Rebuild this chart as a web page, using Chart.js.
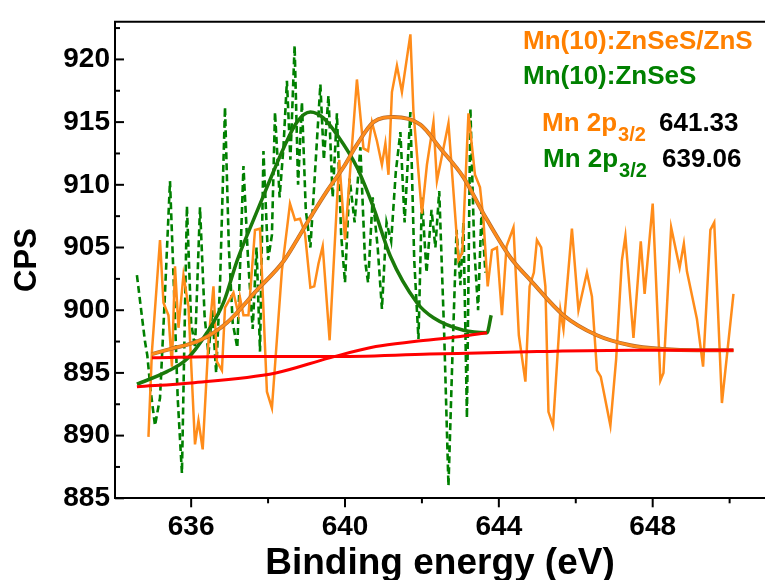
<!DOCTYPE html>
<html>
<head>
<meta charset="utf-8">
<script src="https://cdn.jsdelivr.net/npm/chart.js@4.4.1/dist/chart.umd.min.js"></script>
<style>
  body { margin: 0; background: #fff; }
  #wrap { width: 765px; height: 580px; position: relative; }
</style>
</head>
<body>
<div id="wrap"><canvas id="xps"></canvas></div>
<script>
// raw spectrum, Mn(10):ZnSeS/ZnS
const orangeE = [634.89, 634.98, 635.19, 635.28, 635.41, 635.50, 635.58, 635.67, 635.80, 635.93,
  636.10, 636.19, 636.30, 636.45, 636.58, 636.67, 636.80, 636.88, 637.10, 637.23,
  637.27, 637.36, 637.49, 637.66, 637.79, 637.97, 638.10, 638.36, 638.57, 638.70,
  638.83, 638.96, 639.10, 639.20, 639.31, 639.42, 639.60, 639.85, 640.00, 640.31,
  640.48, 640.60, 640.70, 640.83, 640.96, 641.05, 641.13, 641.22, 641.35, 641.48,
  641.70, 641.78, 642.00, 642.13, 642.30, 642.39, 642.69, 642.95, 643.05, 643.21,
  643.38, 643.51, 643.60, 643.71, 643.82, 643.95, 644.08, 644.20, 644.38, 644.52,
  644.69, 644.80, 644.91, 644.99, 645.10, 645.21, 645.29, 645.41, 645.60, 645.68,
  645.90, 646.07, 646.29, 646.42, 646.55, 646.65, 646.90, 647.05, 647.20, 647.29,
  647.50, 647.69, 647.79, 648.00, 648.20, 648.28, 648.48, 648.70, 648.81, 648.89,
  649.15, 649.31, 649.50, 649.60, 649.80, 650.10];
const orangeCps = [889.9, 896.7, 905.6, 900.6, 899.6, 895.5, 903.5, 898.6, 902.8, 900.3,
  889.3, 891.2, 888.9, 897.5, 901.9, 895.9, 895.2, 900.2, 901.4, 899.7,
  901.0, 899.6, 899.6, 906.4, 906.5, 893.5, 892.2, 903.2, 908.5, 907.2,
  907.3, 906.1, 901.8, 901.9, 903.7, 905.1, 897.6, 912.0, 905.6, 918.4,
  912.9, 912.7, 915.0, 913.5, 911.6, 913.3, 910.8, 917.4, 919.5, 917.4,
  922.0, 915.8, 907.7, 911.6, 915.0, 910.3, 914.9, 904.0, 904.6, 915.7,
  910.8, 909.8, 907.2, 901.9, 904.8, 905.0, 899.6, 905.1, 906.6, 898.0,
  894.3, 901.9, 903.0, 905.6, 905.0, 901.9, 891.9, 890.8, 900.0, 898.5,
  906.5, 900.0, 903.0, 901.1, 895.2, 894.7, 890.8, 896.1, 904.0, 905.9,
  897.8, 905.5, 901.3, 908.5, 894.4, 895.0, 906.6, 903.4, 905.3, 903.1,
  899.3, 895.5, 906.4, 907.0, 892.6, 901.3];

// raw spectrum, Mn(10):ZnSeS
const greenE = [634.59, 634.70, 634.80, 634.86, 634.95, 635.06, 635.19, 635.30, 635.45, 635.55,
  635.65, 635.76, 635.89, 636.00, 636.10, 636.23, 636.35, 636.45, 636.55, 636.65,
  636.75, 636.88, 636.98, 637.08, 637.20, 637.36, 637.48, 637.60, 637.70, 637.79,
  637.88, 638.00, 638.10, 638.18, 638.30, 638.40, 638.49, 638.58, 638.69, 638.78,
  638.88, 638.98, 639.10, 639.20, 639.36, 639.45, 639.57, 639.68, 639.79, 639.90,
  640.00, 640.12, 640.25, 640.40, 640.52, 640.60, 640.72, 640.85, 640.96, 641.08,
  641.20, 641.32, 641.44, 641.55, 641.70, 641.80, 641.91, 642.00, 642.12, 642.25,
  642.35, 642.45, 642.58, 642.69, 642.80, 642.90, 643.00, 643.08, 643.17, 643.26,
  643.36, 643.46, 643.55, 643.65];
const greenCps = [902.8, 900.0, 897.5, 896.4, 893.5, 890.8, 893.0, 900.0, 910.3, 902.0,
  893.0, 887.0, 908.3, 899.0, 897.0, 908.2, 899.5, 896.5, 900.0, 895.0,
  902.0, 916.2, 905.0, 899.0, 897.0, 911.5, 904.0, 898.5, 905.0, 896.7,
  912.7, 904.0, 906.0, 915.8, 909.0, 913.0, 918.3, 912.0, 921.1, 910.0,
  916.6, 908.0, 905.0, 910.0, 918.0, 912.0, 917.1, 909.0, 915.7, 906.0,
  902.2, 910.5, 907.0, 913.0, 904.0, 902.2, 909.0, 905.0, 900.1, 907.0,
  905.5, 911.0, 914.2, 907.0, 915.8, 904.0, 897.7, 909.0, 903.0, 908.0,
  905.0, 909.5, 898.0, 886.0, 897.0, 906.4, 902.0, 907.0, 891.4, 916.1,
  905.0, 900.0, 908.0, 903.0];

// fitted envelopes
const orangeFitE = [634.98, 635.45, 636.23, 636.93, 637.71, 638.40, 638.75, 639.10, 639.53, 639.96,
  640.31, 640.74, 641.26, 641.96, 642.48, 643.08, 643.60, 644.30, 644.82, 645.68,
  646.55, 647.42, 648.28, 649.15, 650.10];
const orangeFitCps = [896.5, 896.9, 897.6, 899.0, 901.6, 903.9, 905.6, 907.4, 909.5, 911.4,
  913.2, 915.0, 915.4, 914.8, 912.9, 910.6, 907.7, 904.2, 902.4, 899.6,
  898.0, 897.2, 896.9, 896.8, 896.8];

const greenFitE = [634.59, 635.37, 635.89, 636.41, 636.84, 637.20, 637.62, 637.97, 638.40, 638.75,
  639.10, 639.45, 639.79, 640.31, 640.74, 641.18, 641.87, 642.30, 643.08, 643.69, 643.80];
const greenFitCps = [894.1, 895.1, 896.1, 898.2, 900.6, 904.0, 907.2, 909.8, 912.9, 915.0,
  915.8, 915.3, 914.0, 911.4, 908.2, 904.3, 900.6, 899.4, 898.4, 898.2, 899.6];

// backgrounds
const orangeBaseE = [634.98, 637.00, 639.60, 642.20, 645.00, 647.50, 650.10];
const orangeBaseCps = [896.2, 896.3, 896.3, 896.5, 896.7, 896.8, 896.8];
const greenBaseE = [634.59, 636.00, 638.20, 639.60, 640.80, 641.80, 643.00, 643.69];
const greenBaseCps = [893.9, 894.2, 895.0, 896.2, 897.1, 897.5, 897.9, 898.2];

const xTicks = [636, 638, 640, 642, 644, 646, 648, 650];
const yTicks = [885, 887.5, 890, 892.5, 895, 897.5, 900, 902.5, 905, 907.5, 910, 912.5, 915, 917.5, 920, 922.5];

const ORANGE = '#ff8c1a';
const GREEN = '#008000';
const FONT = '"Liberation Sans", Arial, sans-serif';

function pts(xs, ys) {
  return xs.map((x, i) => ({ x: x, y: ys[i] }));
}

function line(data, color, width, order, extra) {
  return Object.assign({
    data: data, borderColor: color, borderWidth: width, showLine: true,
    pointRadius: 0, fill: false, tension: 0, order: order
  }, extra || {});
}

const smooth = { cubicInterpolationMode: 'monotone' };

const frame = {
  id: 'frame',
  afterDraw(chart) {
    const { ctx, chartArea: a, scales: { x, y } } = chart;
    ctx.save();
    ctx.strokeStyle = '#000';
    ctx.lineWidth = 2;
    ctx.beginPath();
    ctx.moveTo(a.left - 1, a.top);
    ctx.lineTo(a.right, a.top);
    ctx.stroke();
    x.ticks.forEach(t => {
      const px = x.getPixelForValue(t.value);
      const len = t.value % 4 === 0 ? 9 : 5;
      ctx.beginPath();
      ctx.moveTo(px, a.bottom);
      ctx.lineTo(px, a.bottom + len);
      ctx.stroke();
    });
    y.ticks.forEach(t => {
      const py = y.getPixelForValue(t.value);
      const len = t.value % 5 === 0 ? 9 : 5;
      ctx.beginPath();
      ctx.moveTo(a.left, py);
      ctx.lineTo(a.left + len, py);
      ctx.stroke();
    });

    // legend / peak labels
    ctx.textBaseline = 'alphabetic';
    ctx.textAlign = 'left';
    ctx.font = 'bold 26px ' + FONT;
    ctx.fillStyle = '#ff8000';
    ctx.fillText('Mn(10):ZnSeS/ZnS', 523, 49);
    ctx.fillStyle = GREEN;
    ctx.fillText('Mn(10):ZnSeS', 523, 84);

    function peak(x0, base, color, value, vx) {
      ctx.font = 'bold 26px ' + FONT;
      ctx.fillStyle = color;
      ctx.fillText('Mn 2p', x0, base);
      const w = ctx.measureText('Mn 2p').width;
      ctx.font = 'bold 20px ' + FONT;
      ctx.fillText('3/2', x0 + w + 1, base + 10);
      ctx.font = 'bold 26px ' + FONT;
      ctx.fillStyle = '#000';
      ctx.fillText(value, vx, base);
    }
    peak(542, 131, '#ff8000', '641.33', 659);
    peak(543, 167, GREEN, '639.06', 662);
    ctx.restore();
  }
};

new Chart(document.getElementById('xps'), {
  type: 'scatter',
  data: {
    datasets: [
      line(pts(greenE, greenCps), GREEN, 2.6, 7, { borderDash: [7, 4] }),
      line(pts(orangeE, orangeCps), ORANGE, 2.5, 6),
      line(pts(greenFitE, greenFitCps), '#1a7a0a', 3.5, 5, smooth),
      line(pts(orangeFitE, orangeFitCps), '#b0682e', 4, 4, smooth),
      line(pts(orangeFitE, orangeFitCps), ORANGE, 2.8, 3, smooth),
      line(pts(greenBaseE, greenBaseCps), '#ff0000', 3, 2, smooth),
      line(pts(orangeBaseE, orangeBaseCps), '#ff0000', 3, 1, smooth)
    ]
  },
  options: {
    responsive: true,
    maintainAspectRatio: false,
    animation: false,
    devicePixelRatio: 1,
    layout: { padding: { top: 16, right: 0, left: 0, bottom: 0 } },
    plugins: { legend: { display: false }, tooltip: { enabled: false } },
    scales: {
      x: {
        type: 'linear',
        min: 634.02,
        max: 650.92,
        afterBuildTicks: s => { s.ticks = xTicks.map(v => ({ value: v })); },
        afterFit: s => { s.height = 81.7; },
        grid: { display: false, drawTicks: false },
        border: { display: true, color: '#000', width: 2 },
        ticks: {
          autoSkip: false, maxRotation: 0, padding: 12, color: '#000',
          font: { family: FONT, weight: 'bold', size: 28 },
          callback: v => (v % 4 === 0 ? String(v) : '')
        },
        title: {
          display: true, text: 'Binding energy (eV)', color: '#000',
          font: { family: FONT, weight: 'bold', size: 37, lineHeight: 1 },
          padding: { top: 0, bottom: -2 }
        }
      },
      y: {
        type: 'linear',
        min: 885,
        max: 923,
        afterBuildTicks: s => { s.ticks = yTicks.map(v => ({ value: v })); },
        afterFit: s => { s.width = 115; },
        grid: { display: false, drawTicks: false },
        border: { display: true, color: '#000', width: 2 },
        ticks: {
          autoSkip: false, padding: 5, color: '#000',
          font: { family: FONT, weight: 'bold', size: 28 },
          callback: v => (v % 5 === 0 ? String(v) : '')
        },
        title: {
          display: true, text: 'CPS', color: '#000',
          font: { family: FONT, weight: 'bold', size: 31, lineHeight: 1 },
          padding: { top: 12, bottom: 0 }
        }
      }
    }
  },
  plugins: [frame]
});
</script>
</body>
</html>
